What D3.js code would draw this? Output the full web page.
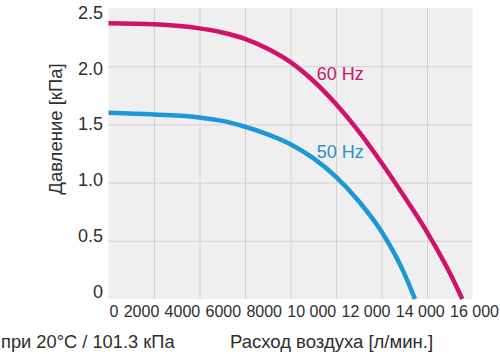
<!DOCTYPE html>
<html>
<head>
<meta charset="utf-8">
<script src="https://cdn.jsdelivr.net/npm/d3@7"></script>
<style>
  html, body { margin: 0; padding: 0; background: #fff; }
  svg { display: block; font-family: "Liberation Sans", Arial, Helvetica, sans-serif; }
</style>
</head>
<body>
<svg id="chart" width="500" height="358"></svg>
<script>
// ---- data ----
const flow60 = [0, 2000, 4000, 5000, 6000, 7000, 8000, 9000, 10000, 11000, 12000, 13000, 14000, 15000, 15550];
const press60 = [2.37, 2.36, 2.325, 2.29, 2.235, 2.15, 2.035, 1.875, 1.675, 1.44, 1.17, 0.88, 0.575, 0.225, 0];
const flow50 = [0, 2000, 4000, 5000, 6000, 7000, 8000, 9000, 10000, 11000, 12000, 13000, 13470];
const press50 = [1.60, 1.585, 1.56, 1.53, 1.48, 1.415, 1.33, 1.21, 1.05, 0.84, 0.58, 0.22, 0];
const seriesNames = ["60 Hz", "50 Hz"];
const labelFlow = [9150, 9150];
const labelPress = [1.88, 1.215];
const xTicks = [0, 2000, 4000, 6000, 8000, 10000, 12000, 14000, 16000];
const xTickLabels = ["0", "2000", "4000", "6000", "8000", "10 000", "12 000", "14 000", "16 000"];
const yTicks = [0, 0.5, 1, 1.5, 2, 2.5];
const yTickLabels = ["0", "0.5", "1.0", "1.5", "2.0", "2.5"];
const yTitle = "Давление [кПа]";
const xTitle = "Расход воздуха [л/мин.]";
const noteText = "при 20°C / 101.3 кПа";

// ---- layout ----
const plotL = 108.5, plotR = 472.5, plotT = 8, plotB = 299;
const colors = ["#d0126a", "#1b98d5"];
const labelColors = ["#c8166a", "#2a8fcb"];
const textColor = "#2e2e2e";

const svg = d3.select("#chart");
const x = d3.scaleLinear().domain([0, 16000]).range([plotL, plotR]);
const y = d3.scaleLinear().domain([0, 2.5]).range([plotB, plotT]);
// tick labels in the reference are spaced slightly tighter than the grid
const yLab = d3.scaleLinear().domain([0, 2.5]).range([291.5, 12.5]);

// plot background
svg.append("rect")
  .attr("x", x(0)).attr("y", y(2.5))
  .attr("width", x(16000) - x(0)).attr("height", y(0) - y(2.5))
  .attr("fill", "#efefef");

// grid
const gx = svg.append("g")
  .attr("transform", `translate(0,${plotB})`)
  .call(d3.axisBottom(x).tickValues(xTicks.slice(1, -1)).tickSize(-(plotB - plotT)).tickFormat(""));
const gy = svg.append("g")
  .attr("transform", `translate(${plotL},0)`)
  .call(d3.axisLeft(y).tickValues(yTicks.slice(1, -1)).tickSize(-(plotR - plotL)).tickFormat(""));
[gx, gy].forEach(g => {
  g.select(".domain").remove();
  g.selectAll("line").attr("stroke", "#d2d2d2").attr("stroke-width", 1);
});

// y tick labels
const ya = svg.append("g")
  .attr("transform", "translate(103,0)")
  .call(d3.axisLeft(yLab).tickValues(yTicks).tickSize(0).tickPadding(0)
    .tickFormat((d, i) => yTickLabels[i]));
ya.select(".domain").remove();
ya.selectAll("text").attr("font-size", 18).attr("fill", textColor)
  .attr("font-family", "Liberation Sans, Arial, sans-serif");

// x tick labels: laid out one after another, like in the reference
const xa = svg.append("g")
  .attr("transform", "translate(0,317)")
  .call(d3.axisBottom(x).tickValues(xTicks).tickSize(0).tickPadding(0)
    .tickFormat((d, i) => xTickLabels[i]));
xa.select(".domain").remove();
xa.selectAll("text").attr("font-size", 16).attr("fill", textColor)
  .attr("font-family", "Liberation Sans, Arial, sans-serif")
  .attr("text-anchor", "start").attr("y", 0).attr("dy", 0);
let cursor = x(0) + 1;
xa.selectAll(".tick").each(function () {
  const t = d3.select(this);
  t.attr("transform", `translate(${cursor},0)`);
  cursor += t.select("text").node().getComputedTextLength() + 5.3;
});

// curves
const line = d3.line().x(d => x(d[0])).y(d => y(d[1])).curve(d3.curveMonotoneX);
const series = [d3.zip(flow60, press60), d3.zip(flow50, press50)];
series.forEach((s, i) => {
  svg.append("path").datum(s)
    .attr("d", line)
    .attr("fill", "none")
    .attr("stroke", colors[i])
    .attr("stroke-width", 4.5)
    .attr("stroke-linecap", "butt");
  svg.append("text")
    .attr("x", x(labelFlow[i])).attr("y", y(labelPress[i]))
    .attr("font-size", 18).attr("fill", labelColors[i])
    .text(seriesNames[i]);
});

// titles
svg.append("text")
  .attr("transform", "translate(62,129) rotate(-90)")
  .attr("text-anchor", "middle").attr("font-size", 18.5).attr("fill", textColor)
  .text(yTitle);
svg.append("text")
  .attr("x", 1).attr("y", 348).attr("font-size", 18.3).attr("fill", textColor)
  .text(noteText);
svg.append("text")
  .attr("x", 230).attr("y", 348).attr("font-size", 18.5).attr("fill", textColor)
  .text(xTitle);
</script>
</body>
</html>
